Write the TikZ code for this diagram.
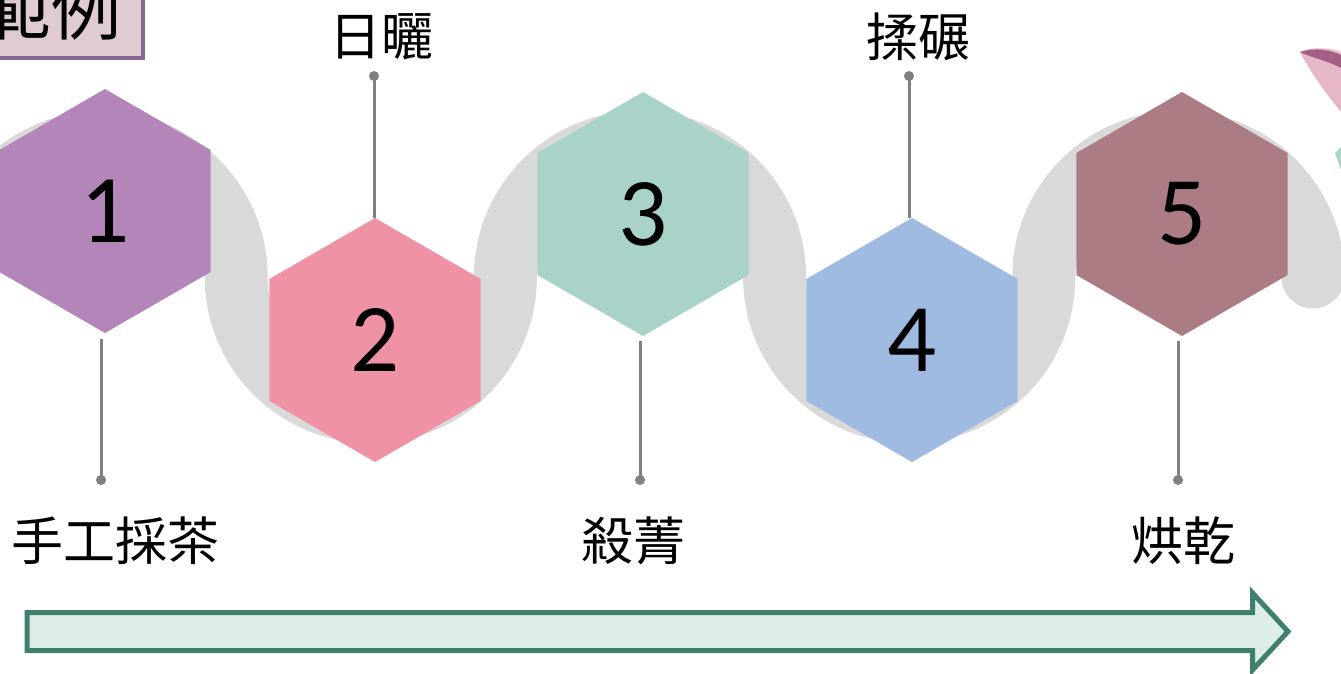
\documentclass[tikz,border=0pt]{standalone}
\usepackage{fontspec}
\newfontfamily\cjk{Noto Sans CJK TC}
\newfontfamily\numfont{Carlito}
\usetikzlibrary{shapes.geometric,calc}
\definecolor{hexA}{HTML}{B385B9}
\definecolor{hexB}{HTML}{F092A5}
\definecolor{hexC}{HTML}{A9D2C8}
\definecolor{hexD}{HTML}{9FBBE2}
\definecolor{hexE}{HTML}{AC7C85}
\definecolor{bandgray}{HTML}{D9D9D9}
\definecolor{stemgray}{HTML}{808080}
\definecolor{arrowfill}{HTML}{DDEDE9}
\definecolor{arrowline}{HTML}{3F7F6E}
\definecolor{titlefill}{HTML}{DFCCD3}
\definecolor{titleline}{HTML}{87678F}
\definecolor{leafpink}{HTML}{E6B6C9}
\definecolor{leafdark}{HTML}{A55E86}
\definecolor{leafteal}{HTML}{A8D5C8}
\tikzset{
  band/.style={draw=bandgray, line width=63pt, line cap=round},
  hexnode/.style={regular polygon, regular polygon sides=6, shape border rotate=30,
    minimum size=244pt, inner sep=0pt, outer sep=0pt, draw=none,
    font=\numfont\fontsize{97}{110}\selectfont},
  stem/.style={draw=stemgray, line width=3pt},
  dotnode/.style={circle, fill=stemgray, inner sep=0pt, minimum size=10pt},
  labelnode/.style={font=\cjk\fontsize{52}{62}\selectfont, inner sep=0pt},
  titlebox/.style={draw=titleline, fill=titlefill, line width=4pt, inner sep=0pt,
    minimum width=184pt, minimum height=100pt, font=\cjk\fontsize{70}{80}\selectfont},
  arrowbox/.style={draw=arrowline, fill=arrowfill, line width=5pt, line join=miter}
}
\begin{document}
\begin{tikzpicture}[x=1pt, y=-1pt]
\useasboundingbox (0,0) rectangle (1341,674);
% wave band
\draw[band] (-33,277) arc[start angle=180, end angle=360, radius=134.6]
  arc[start angle=180, end angle=0, radius=134.6]
  arc[start angle=180, end angle=360, radius=134.6]
  arc[start angle=180, end angle=0, radius=134.6]
  arc[start angle=180, end angle=360, radius=134.6];
% hexagons
\node[hexnode, fill=hexA] (h1) at (105,211) {1};
\node[hexnode, fill=hexB] (h2) at (375,340) {2};
\node[hexnode, fill=hexC] (h3) at (643,214) {3};
\node[hexnode, fill=hexD] (h4) at (912,340) {4};
\node[hexnode, fill=hexE] (h5) at (1182,214) {5};
% dots
\node[dotnode] (d1) at (101,480) {};
\node[dotnode] (d2) at (374,76) {};
\node[dotnode] (d3) at (640,480) {};
\node[dotnode] (d4) at (909,76) {};
\node[dotnode] (d5) at (1178,480) {};
% stems
\draw[stem] (d1.center) -- ($(d1 |- h1.south)+(0,6)$);
\draw[stem] (d2.center) -- (d2 |- h2.north);
\draw[stem] (d3.center) -- ($(d3 |- h3.south)+(0,5)$);
\draw[stem] (d4.center) -- (d4 |- h4.north);
\draw[stem] (d5.center) -- ($(d5 |- h5.south)+(0,5)$);
% labels
\node[labelnode] (l1) at (115,541) {手工採茶};
\node[labelnode] (l2) at (381,37) {日曬};
\node[labelnode] (l3) at (633,541) {殺菁};
\node[labelnode] (l4) at (918,37) {揉碾};
\node[labelnode] (l5) at (1183,541) {烘乾};
% title box
\node[titlebox, anchor=south east] (title) at (145,60) {範例};
% bottom arrow
\draw[arrowbox] (27,612.5) -- (1252.5,612.5) -- (1252.5,593) -- (1288,631.5)
  -- (1252.5,670) -- (1252.5,650.5) -- (27,650.5) -- cycle;
% leaf decoration
\fill[leafpink] (1300,52) .. controls (1315,46) and (1330,48) .. (1341,52)
  -- (1341,112) .. controls (1325,92) and (1310,72) .. (1300,52) -- cycle;
\fill[leafdark] (1300,52) .. controls (1315,47) and (1330,50) .. (1341,55)
  -- (1341,68) .. controls (1326,60) and (1312,58) .. (1300,52) -- cycle;
\fill[leafteal] (1335,153) -- (1341,147) -- (1341,170) -- cycle;
\end{tikzpicture}
\end{document}
